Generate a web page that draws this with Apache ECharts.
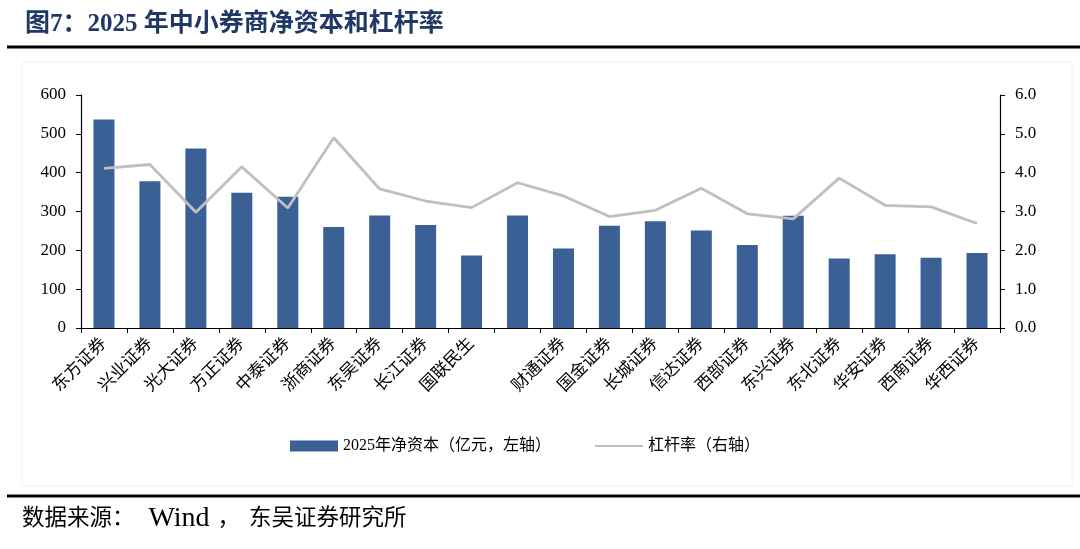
<!DOCTYPE html>
<html>
<head>
<meta charset="utf-8">
<script src="https://cdn.jsdelivr.net/npm/echarts@6/dist/echarts.min.js"></script>
<style>
  html, body { margin: 0; padding: 0; background: #fff; }
  #main { width: 1080px; height: 549px; }
</style>
</head>
<body>
<div id="main"></div>
<script>
// 券商名称（第10根柱子在原图中没有标签）
const brokers = ['东方证券', '兴业证券', '光大证券', '方正证券', '中泰证券', '浙商证券', '东吴证券', '长江证券', '国联民生', '',
    '财通证券', '国金证券', '长城证券', '信达证券', '西部证券', '东兴证券', '东北证券', '华安证券', '西南证券', '华西证券'];
// 2025年净资本（亿元）
const netCapital = [537, 378, 462, 348, 338, 260, 290, 265, 187, 290,
    205, 263, 275, 251, 214, 289, 179, 190, 181, 193];
// 杠杆率
const leverage = [4.11, 4.21, 2.98, 4.15, 3.09, 4.90, 3.58, 3.27, 3.10, 3.74,
    3.40, 2.87, 3.03, 3.60, 2.94, 2.81, 3.86, 3.16, 3.12, 2.69];

const serifFont = '"Liberation Serif", "Noto Sans CJK SC", serif';
const cjkFont = '"Liberation Serif", "Noto Sans CJK SC", sans-serif';

const chartDom = document.getElementById('main');
const myChart = echarts.init(chartDom);

const option = {
    animation: false,
    backgroundColor: '#fff',
    title: {
        text: '图7：2025 年中小券商净资本和杠杆率',
        left: 20,
        top: 7,
        textStyle: {
            fontFamily: cjkFont,
            fontSize: 25,
            fontWeight: 'bold',
            color: '#1F3864'
        }
    },
    graphic: [
        {
            type: 'rect',
            shape: { x: 22, y: 62, width: 1050, height: 424 },
            style: { fill: 'none', stroke: '#f2f2f2', lineWidth: 1 },
            silent: true
        },
        {
            type: 'line',
            shape: { x1: 7, y1: 47, x2: 1080, y2: 47 },
            style: { stroke: '#000', lineWidth: 3 }
        },
        {
            type: 'line',
            shape: { x1: 7, y1: 496, x2: 1080, y2: 496 },
            style: { stroke: '#000', lineWidth: 3 }
        },
        {
            type: 'text',
            left: 22,
            top: 505,
            style: {
                text: '{a|数据来源：}{b|Wind}{c|，}{a|东吴证券研究所}',
                rich: {
                    a: { fontFamily: cjkFont, fontSize: 22.5 },
                    b: { fontFamily: serifFont, fontSize: 28, padding: [0, 8, 0, 14] },
                    c: { fontFamily: cjkFont, fontSize: 22.5, padding: [0, 9, 0, 0] }
                },
                fill: '#000'
            }
        }
    ],
    legend: {
        left: 285,
        top: 433,
        itemWidth: 48,
        itemHeight: 11,
        itemGap: 43,
        textStyle: { fontFamily: cjkFont, fontSize: 16, color: '#000' },
        data: [
            { name: '2025年净资本（亿元，左轴）', icon: 'rect' },
            { name: '杠杆率（右轴）', itemStyle: { opacity: 0 } }
        ]
    },
    grid: {
        left: 81,
        right: 80,
        top: 95,
        bottom: 221,
        containLabel: false
    },
    xAxis: {
        type: 'category',
        data: brokers,
        boundaryGap: true,
        axisLine: { lineStyle: { color: '#000', width: 1.2 } },
        axisTick: { show: true, inside: false, length: 5, alignWithLabel: false, lineStyle: { color: '#000' } },
        axisLabel: {
            interval: 0,
            rotate: 45,
            margin: 13,
            fontFamily: cjkFont,
            fontSize: 17,
            color: '#000'
        }
    },
    yAxis: [
        {
            type: 'value',
            min: 0,
            max: 600,
            interval: 100,
            splitLine: { show: false },
            axisLine: { show: true, lineStyle: { color: '#000', width: 1.2 } },
            axisTick: { show: true, length: 5, lineStyle: { color: '#000' } },
            axisLabel: { fontFamily: serifFont, fontSize: 17, color: '#000', margin: 15 }
        },
        {
            type: 'value',
            min: 0,
            max: 6,
            interval: 1,
            position: 'right',
            splitLine: { show: false },
            axisLine: { show: true, lineStyle: { color: '#000', width: 1.2 } },
            axisTick: { show: true, length: 5, lineStyle: { color: '#000' } },
            axisLabel: {
                fontFamily: serifFont, fontSize: 17, color: '#000', margin: 15,
                formatter: v => v.toFixed(1)
            }
        }
    ],
    series: [
        {
            name: '2025年净资本（亿元，左轴）',
            type: 'bar',
            yAxisIndex: 0,
            data: netCapital,
            barWidth: 21,
            itemStyle: { color: '#3A6095' }
        },
        {
            name: '杠杆率（右轴）',
            type: 'line',
            yAxisIndex: 1,
            data: leverage,
            symbol: 'none',
            lineStyle: { color: '#BFBFBF', width: 2.8 },
            itemStyle: { color: '#BFBFBF' }
        }
    ]
};

myChart.setOption(option);
</script>
</body>
</html>
